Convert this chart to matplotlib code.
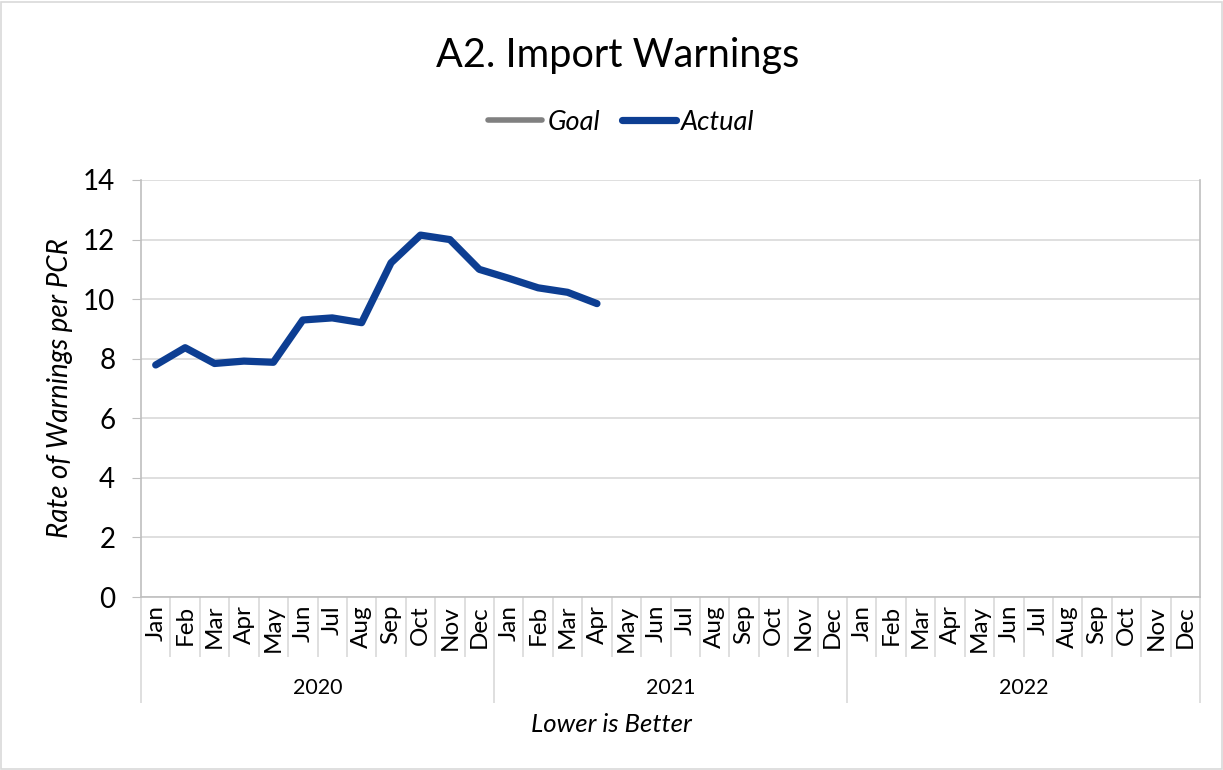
import numpy as np
import matplotlib
matplotlib.use("Agg")
import matplotlib.pyplot as plt
from matplotlib.patches import Rectangle
import matplotlib.transforms as mtransforms

plt.rcParams["font.family"] = ["Lato", "DejaVu Sans"]

# ── Data ─────────────────────────────────────────────────────────
years = ["2020", "2021", "2022"]
months = ["Jan", "Feb", "Mar", "Apr", "May", "Jun",
          "Jul", "Aug", "Sep", "Oct", "Nov", "Dec"]
actual = [7.79, 8.37, 7.84, 7.92, 7.88, 9.30, 9.37, 9.21, 11.22, 12.15, 12.00, 11.00,
          10.70, 10.38, 10.23, 9.85]
goal = []  # no goal values plotted yet
yticks = [0, 2, 4, 6, 8, 10, 12, 14]

n_cat = len(years) * len(months)
x = np.arange(n_cat)

fig = plt.figure(figsize=(12.23, 7.7), dpi=100)
ax = fig.add_axes([141 / 1223, 173 / 770, 1059 / 1223, 417 / 770])

# figure border
fig.patches.append(Rectangle((0.001, 0.001), 0.998, 0.997, transform=fig.transFigure,
                             fill=False, edgecolor="#d9d9d9", lw=1.2))

goal_line, = ax.plot(np.arange(len(goal)), goal, color="#808080", lw=4,
                     solid_capstyle="round", label="Goal")
act_line, = ax.plot(x[:len(actual)], actual, color="#0D3E92", lw=5.2,
                    solid_capstyle="round", solid_joinstyle="round", label="Actual")

ax.set_xlim(-0.5, n_cat - 0.5)
ax.set_ylim(0, 14)
ax.set_yticks(yticks)
ax.tick_params(axis="y", labelsize=20, length=6.5, color="#bfbfbf", pad=12)
ax.grid(axis="y", color="#d9d9d9", lw=1.2)
ax.set_axisbelow(True)
for side in ["left", "bottom", "right"]:
    ax.spines[side].set_color("#bfbfbf")
    ax.spines[side].set_linewidth(1.2)
ax.spines["top"].set_visible(False)

# multi-level category axis: month separators (minor) + year separators (major)
ax.set_xticks(np.arange(0, n_cat + 1, len(months)) - 0.5)
ax.set_xticks(np.arange(n_cat + 1) - 0.5, minor=True)
ax.set_xticklabels([])
ax.tick_params(axis="x", which="major", length=76, color="#d9d9d9", width=1.2)
ax.tick_params(axis="x", which="minor", length=43, color="#d9d9d9", width=1.2)

trans = mtransforms.blended_transform_factory(ax.transData, ax.transAxes)
for i in range(n_cat):
    ax.text(x[i], -0.019, months[i % len(months)], rotation=90, ha="center", va="top",
            fontsize=17.5, transform=trans)
for j, yr in enumerate(years):
    ax.text(j * len(months) + (len(months) - 1) / 2, -0.218, yr, ha="center", va="center",
            fontsize=15.5, transform=trans)

ax.set_ylabel("Rate of Warnings per PCR", fontsize=20, style="italic")
ax.yaxis.set_label_coords(-0.064, 0.5)

fig.text(0.5, 1 - 724 / 770, "Lower is Better", ha="center", va="center",
         fontsize=18.5, style="italic")
fig.text(0.505, 1 - 55 / 770, "A2. Import Warnings", ha="center", va="center", fontsize=28.5)

fig.legend(handles=[goal_line, act_line], loc="center", bbox_to_anchor=(0.508, 1 - 122 / 770),
           ncol=2, frameon=False, prop={"style": "italic", "size": 19.5},
           handlelength=2.0, handletextpad=0.2, columnspacing=0.8)

fig.savefig("out.png", dpi=100)
